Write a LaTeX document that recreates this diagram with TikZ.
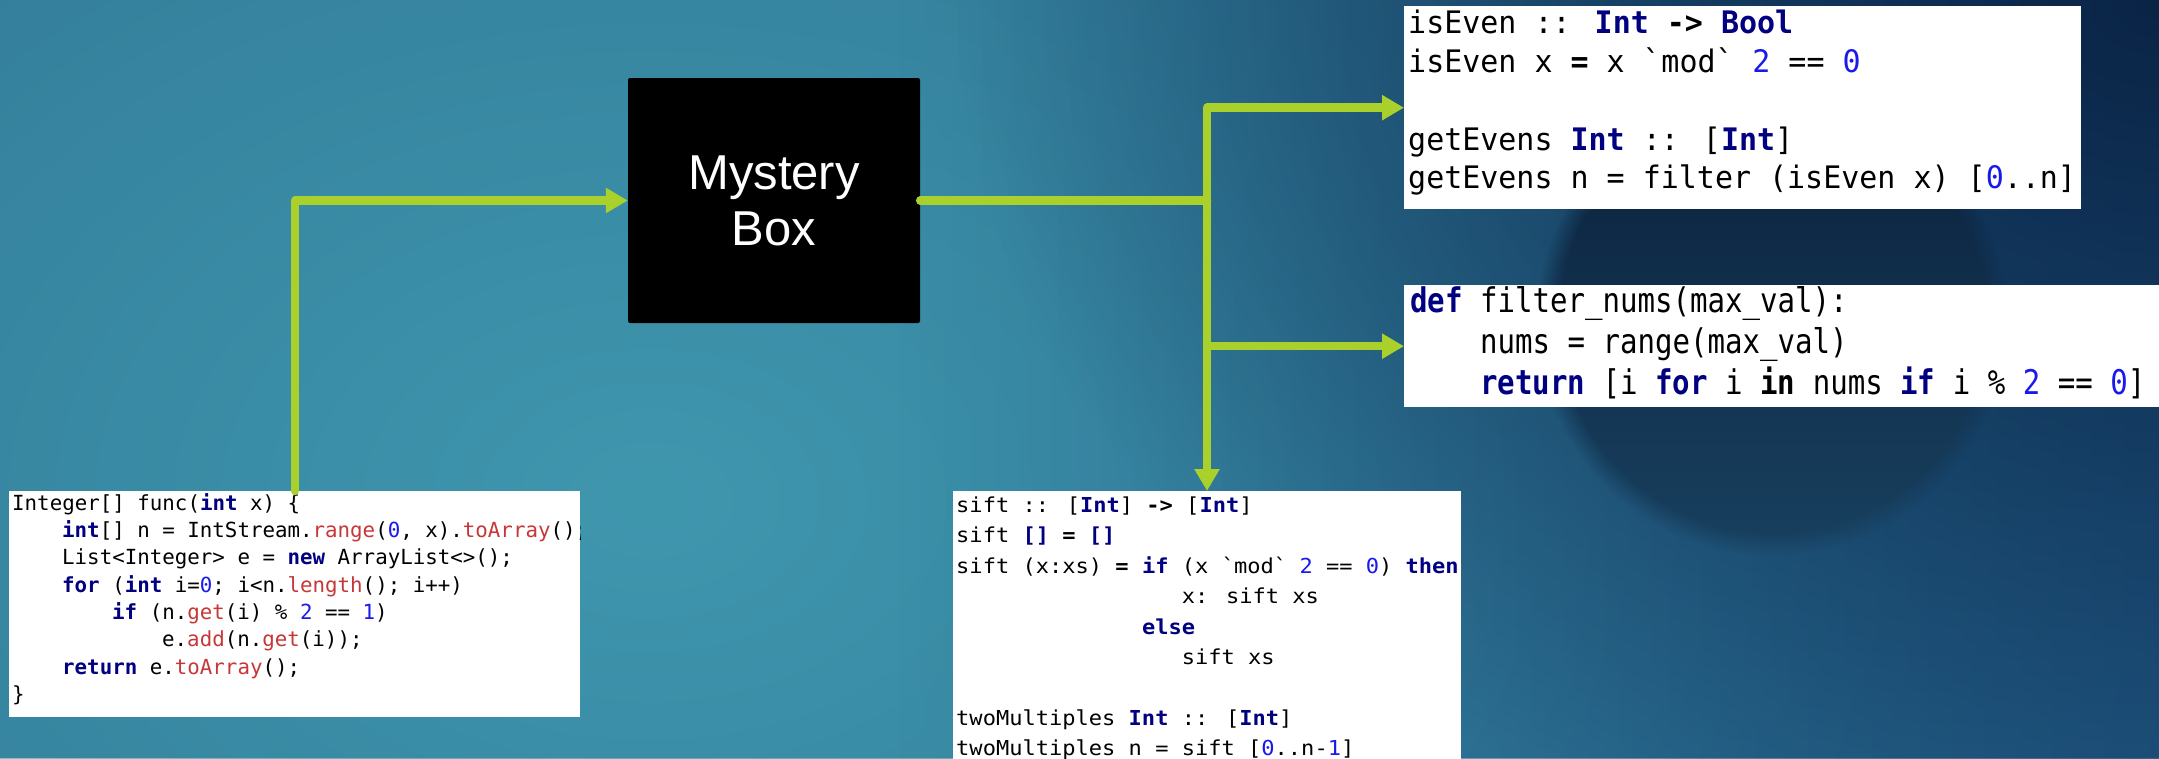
\documentclass[tikz,border=0pt]{standalone}
\usepackage{fontspec}
\setmainfont{Liberation Sans}
\newfontfamily\jmono{DejaVu Sans Mono}
\newfontfamily\hmono[FakeStretch=0.967]{DejaVu Sans Mono}
\newfontfamily\pmono[FakeStretch=0.855]{DejaVu Sans Mono}
\newfontfamily\smono[FakeStretch=1.07]{DejaVu Sans Mono}
\usetikzlibrary{arrows.meta,fadings}
\definecolor{grn}{RGB}{170,208,44}
\definecolor{kw}{RGB}{0,0,128}
\definecolor{num}{RGB}{25,25,235}
\definecolor{jred}{RGB}{200,55,55}
\definecolor{bgbase}{HTML}{2A688A}
\definecolor{bglight}{HTML}{3F97AE}
\definecolor{bgdark}{HTML}{1B4E7C}
\definecolor{bgdarker}{HTML}{0A2446}
\definecolor{disctop}{HTML}{0A203A}
\definecolor{discbot}{HTML}{18405F}
\tikzfading[name=radfade, inner color=transparent!0, outer color=transparent!100]
\tikzfading[name=fadeR, left color=transparent!100, right color=transparent!0]
\newcommand\kwd[1]{{\bfseries\color{kw}#1}}
\newcommand\numc[1]{{\color{num}#1}}
\newcommand\bld[1]{{\bfseries #1}}
\newcommand\mth[1]{{\color{jred}#1}}
\newcommand\gr{\textasciigrave}
\tikzset{
  codebox/.style={fill=white, draw=none, inner sep=0, anchor=north west},
  cl/.style={anchor=base west, inner sep=0, text=black},
  jline/.style={cl, font=\jmono\fontsize{20.8}{25}\selectfont},
  sline/.style={cl, font=\smono\fontsize{20.6}{25}\selectfont},
  hline/.style={cl, font=\hmono\fontsize{31}{36}\selectfont},
  pline/.style={cl, font=\pmono\fontsize{34}{38}\selectfont},
  flowline/.style={draw=grn, line width=8.5pt, line cap=round, line join=round},
  flow/.style={flowline, -{Triangle[length=22pt,width=24pt]}},
  mbox/.style={fill=black, text=white, inner sep=0, minimum width=292pt, minimum height=245pt,
    align=center, font=\fontsize{49}{56}\selectfont, rounded corners=2pt}
}
\begin{document}
\begin{tikzpicture}[x=1pt,y=-1pt]
\useasboundingbox (0,0) rectangle (2159,758);
% background
\fill[bgbase] (0,0) rectangle (2159,758);
\fill[bglight, path fading=radfade] (650,500) ellipse [x radius=2000, y radius=1400];
\fill[bgdark, path fading=fadeR] (900,-10) rectangle (2500,770);
\fill[bgdarker, path fading=radfade] (2159,0) ellipse [x radius=1200, y radius=900];
\shade[top color=disctop, bottom color=discbot, path fading=circle with fuzzy edge 10 percent] (1772,320) circle (235);

% boxes
\node[mbox] (mb) at (774,200.5) {Mystery\\Box};
\node[codebox, minimum width=571pt, minimum height=226pt] (java) at (9,491) {};
\node[codebox, minimum width=677pt, minimum height=203pt] (hs) at (1404,6) {};
\node[codebox, minimum width=760pt, minimum height=122pt] (py) at (1404,285) {};
\node[codebox, minimum width=508pt, minimum height=270pt] (sift) at (953,491) {};

% Java code
\begin{scope}
\clip (java.north west) rectangle (java.south east);
\node[jline] (j1) at (12,510) {Integer[] func(\kwd{int} x) \{};
\node[jline] (j2) at (62,537) {\kwd{int}[] n = IntStream.\mth{range}(\numc{0}, x).\mth{toArray}();};
\node[jline] (j3) at (62,564) {List<Integer> e = \kwd{new} ArrayList<>();};
\node[jline] (j4) at (62,592) {\kwd{for} (\kwd{int} i=\numc{0}; i<n.\mth{length}(); i++)};
\node[jline] (j5) at (112,619) {\kwd{if} (n.\mth{get}(i) \% \numc{2} == \numc{1})};
\node[jline] (j6) at (162,646) {e.\mth{add}(n.\mth{get}(i));};
\node[jline] (j7) at (62,674) {\kwd{return} e.\mth{toArray}();};
\node[jline] (j8) at (12,701) {\}};
\end{scope}

% Haskell top
\node[hline] (h1) at (1408,33.5) {isEven :: \kwd{Int} \bld{->} \kwd{Bool}};
\node[hline] (h2) at (1408,72) {isEven x \bld{=} x \gr mod\gr{} \numc{2} == \numc{0}};
\node[hline] (h4) at (1408,150) {getEvens \kwd{Int} :: [\kwd{Int}]};
\node[hline] (h5) at (1408,188.5) {getEvens n = filter (isEven x) [\numc{0}..n]};

% Python
\node[pline] (p1) at (1410,312) {\kwd{def} filter\_nums(max\_val):};
\node[pline] (p2) at (1480,353) {nums = range(max\_val)};
\node[pline] (p3) at (1480,394) {\kwd{return} [i \kwd{for} i \bld{in} nums \kwd{if} i \% \numc{2} == \numc{0}]};

% sift
\node[sline] (s1) at (956,512) {sift :: [\kwd{Int}] \bld{->} [\kwd{Int}]};
\node[sline] (s2) at (956,542) {sift \kwd{[]} \bld{=} \kwd{[]}};
\node[sline] (s3) at (956,573) {sift (x:xs) \bld{=} \kwd{if} (x \gr mod\gr{} \numc{2} == \numc{0}) \kwd{then}};
\node[sline] (s4) at (1181.6,603) {x: sift xs};
\node[sline] (s5) at (1141.8,634) {\kwd{else}};
\node[sline] (s6) at (1181.6,664) {sift xs};
\node[sline] (s8) at (956,725) {twoMultiples \kwd{Int} :: [\kwd{Int}]};
\node[sline] (s9) at (956,755) {twoMultiples n = sift [\numc{0}..n-\numc{1}]};

% connectors
\coordinate (inx) at (295,0);
\coordinate (split) at (1207,0);
\draw[flow] (java.north -| inx) |- (mb.west);
\draw[flowline] (mb.east) -- (mb.east -| split);
\draw[flow] (mb.east -| split) |- (hs.west);
\draw[flow] (mb.east -| split) |- (py.west);
\draw[flow] (mb.east -| split) -- (sift.north -| split);
\end{tikzpicture}
\end{document}
